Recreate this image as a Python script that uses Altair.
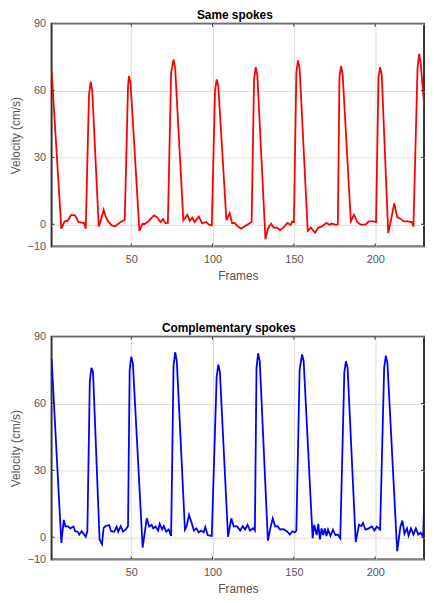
import altair as alt
import pandas as pd

# ---------------- data ----------------
same_frames = [1, 7, 9, 11, 13, 15.5, 17.5, 21, 22, 24, 25, 26, 30, 31, 33, 34, 35.5, 38, 40, 43, 46,
               48, 48.6, 49.6, 55, 57, 58, 60, 62, 64, 66, 68, 69.5, 71, 72.5, 74.5, 76, 77, 82, 84.5,
               86, 87.5, 89, 91.5, 93.5, 96, 98, 99.5, 101.5, 102.5, 103.5, 108.5, 110.5, 112, 113.5,
               115.5, 117.5, 119.5, 122.5, 124, 125.5, 126.5, 127.5, 132.5, 134, 136, 137.5, 139.5,
               141.5, 143.5, 146, 148, 149, 150, 151.5, 152.5, 153.5, 158.5, 160.5, 163, 165, 167.5,
               170, 172, 173, 176, 177, 178, 179, 180, 185, 187, 189, 191, 194, 196, 199, 200.5, 202,
               203, 204, 208, 210, 211.7, 213.5, 215.5, 217.5, 220, 222.5, 223.5, 226, 227, 228, 232]
same_vel = [69, -2, 1.3, 1.6, 4.2, 4, 1, 0.5, -2, 58, 64, 60, -1, 1, 6.5, 4, 1.5, -0.5, -1, 0.8, 2,
            62, 66.5, 63, -3, 0.3, 0, 1, 2.5, 4, 3, 1, 2.3, 0.5, 0.6, 68, 74, 70, 1.8, 4.2,
            1.5, 3, 1, 3.5, 0.5, 1, -0.3, -0.5, 60, 65, 62, 1.8, 5, 0.5, 0.6,
            -0.9, -2, -1, 0.3, 1, 65, 70.5, 67, -6.8, -2, 0.3, -1.5, -1.5,
            -2.7, -1.5, 0.6, -0.3, 1.3, 1, 68, 73.5, 70, -3, -1.5, -3.8, -1.5, -0.9,
            0.6, -0.3, 0.3, -0.3, 0, 66, 71, 67, 1.3, 4.2, 1, -0.2, -0.2, 1.3, 1.3, 1, 66,
            70.5, 67, -4, 3, 9.4, 3.2, 2.5, 1.3, 1.3, 1, -1, 70, 76.5, 72, 36]

comp_frames = [1, 7, 8.5, 9.5, 11, 12.5, 14.5, 15.5, 17, 18, 19.5, 21, 22, 23, 24.5, 25.5, 26.5, 30.5,
               32, 33, 34.5, 36.5, 37.5, 39.5, 41, 42, 43.5, 45, 46.5, 48, 49, 50, 51, 57, 59.5, 61,
               62.5, 63.5, 65, 66.5, 67.5, 69, 70, 71.5, 73, 74.5, 76, 77, 78, 83, 84, 85.5, 87, 88.5,
               90, 91.5, 93, 94.5, 95.5, 97, 99.5, 102.5, 103.5, 104.5, 109.5, 111.5, 113, 115, 117,
               118.5, 120, 121.5, 123, 125, 126, 127, 128, 129, 134, 135.5, 137, 138.5, 140, 141.5,
               143.5, 146, 147.5, 149, 150.5, 151.5, 153.5, 155, 156, 161.5, 162.5, 164, 165, 166,
               167, 168, 169, 170, 171, 172.5, 174, 175.5, 177, 178.5, 181, 182, 183, 188, 190,
               191.5, 192.5, 194, 196, 198, 199.5, 201, 203, 205.5, 206.5, 207.5, 213.5, 215.5,
               216.7, 218, 219.5, 220.5, 222, 223.5, 225, 226.5, 228, 229.5, 231, 232]
comp_vel = [80, -2.5, 7.8, 4.8, 5, 4, 4.8, 2.7, 2.5, 1.2, 2.7, 1.2, 0.2, 2.7, 70, 76, 74, -1,
            -3.1, 4.2, 5.1, 5.4, 2.7, 2.5, 4.8, 2.5, 5, 2.5, 3.4, 5, 75, 81, 78, -4.7, 8.5, 4.8,
            5.6, 4, 4.8, 3, 6, 3.5, 5, 2.5, 3.5, 0.6, 77, 83, 79, 3.4, 4.8, 10, 6.7, 3,
            4, 2.2, 3, 2.2, 4.6, 0.9, 0.6, 72, 77.5, 74, 0.2, 8.5, 4.8, 5, 3,
            5, 3.5, 5.6, 3, 4, 3, 76, 82.5, 79, -1.5, 4, 8.5, 4.8, 5, 3.5,
            3.6, 2.5, 1.2, 2.7, 2.2, 3, 75, 82, 79, -0.4, 5.6, 1, 6, -1,
            4, 1, 4, 0.5, 3.4, 0.6, 3.4, 1, 1.2, -0.5, 74, 79, 76, -2.2, 5.6,
            5, 6.4, 3.4, 4, 4.8, 3, 4.8, 3.5, 76, 81.5, 78, -6.3, 4.8,
            7.5, 1.5, 4, 0.8, 4, 1.2, 4, 1.2, 2, 0.3, 40, 80]

x_ticks = [50, 100, 150, 200]
y_ticks = [0, 30, 60]
y_labels = [-10, 0, 30, 60, 90]
panel_titles = ["Same spokes", "Complementary spokes"]
x_title = "Frames"
y_title = "Velocity (cm/s)"

W, H = 376, 225
XDOM = [1, 230]
YDOM = [-10, 90]
FONT = "Liberation Sans"
BOX = "#333333"
TK = 3  # inward tick length (px)


def panel(frames, vel, color, title, dx):
    df = pd.DataFrame({"frame": frames, "vel": vel})
    xs = alt.Scale(domain=XDOM, nice=False, zero=False)
    ys = alt.Scale(domain=YDOM, nice=False, zero=False)
    xax = alt.Axis(values=x_ticks, title=x_title, labelPadding=7, titlePadding=6)
    yax = alt.Axis(values=y_labels, title=y_title, labelPadding=6, titlePadding=5)
    line = alt.Chart(df).mark_line(color=color, strokeWidth=1.8, clip=True).encode(
        x=alt.X("frame:Q", scale=xs, axis=xax),
        y=alt.Y("vel:Q", scale=ys, axis=yax),
    )
    tdx = pd.DataFrame({"t": x_ticks})
    tdy = pd.DataFrame({"t": y_ticks})
    rs = dict(color=BOX, strokeWidth=1)
    xb = alt.Chart(tdx).mark_rule(**rs).encode(
        x=alt.X("t:Q", scale=xs, axis=xax), y=alt.value(H - TK), y2=alt.value(H))
    xt = alt.Chart(tdx).mark_rule(**rs).encode(
        x=alt.X("t:Q", scale=xs, axis=xax), y=alt.value(0), y2=alt.value(TK))
    yl = alt.Chart(tdy).mark_rule(**rs).encode(
        y=alt.Y("t:Q", scale=ys, axis=yax), x=alt.value(0), x2=alt.value(TK))
    yr = alt.Chart(tdy).mark_rule(**rs).encode(
        y=alt.Y("t:Q", scale=ys, axis=yax), x=alt.value(W - TK), x2=alt.value(W))
    return alt.layer(line, xb, xt, yl, yr).properties(
        width=W, height=H,
        title=alt.TitleParams(title, fontSize=12, fontWeight="bold", font=FONT,
                              color="#000000", offset=-4, dx=dx),
    )


top = panel(same_frames, same_vel, "#ff0000", panel_titles[0], -3)
bottom = panel(comp_frames, comp_vel, "#0000ff", panel_titles[1], -9)

chart = alt.vconcat(top, bottom, spacing=39).properties(
    padding={"left": 0, "right": 0, "top": -3, "bottom": 0},
    background="white",
).configure_view(
    stroke=BOX, strokeWidth=2
).configure_axis(
    labelFont=FONT, titleFont=FONT, labelFontSize=11, titleFontSize=12,
    labelColor="#555555", titleColor="#555555", titleFontWeight="normal",
    ticks=False, domain=False, grid=True, gridColor="#dddddd", gridWidth=1,
)

chart.save("out.html", embed_options={"renderer": "svg", "actions": False})
